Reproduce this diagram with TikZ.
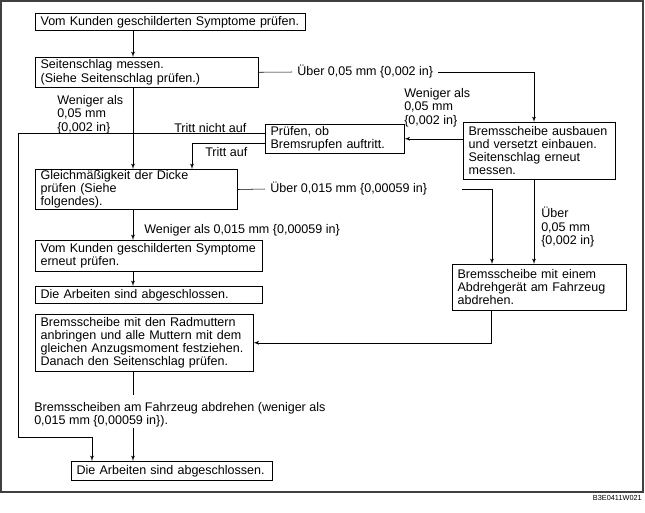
\documentclass[tikz,border=0pt]{standalone}
\usepackage{fontspec}
\setmainfont{Liberation Sans}
\usetikzlibrary{arrows,calc}

\begin{document}
\begin{tikzpicture}[x=0.75pt, y=-0.75pt, font=\fontsize{9.4}{9.8}\selectfont]
\tikzstyle{block} = [rectangle, draw, anchor=north west, align=left,
    inner xsep=4pt, inner ysep=1pt]
\tikzstyle{note} = [align=left, inner sep=0pt,
    font=\fontsize{9.4}{10.2}\selectfont]
\tikzstyle{gapnote} = [anchor=west, inner xsep=3.75pt, inner ysep=0pt]
\tikzstyle{line} = [draw, -latex']

    \useasboundingbox (0,0) rectangle (645,512);
    \draw [line width=1pt, black!75] (1,1) rectangle (643,492);
    \node [anchor=north east, inner sep=0pt, font=\fontsize{5.5}{6}\selectfont]
        (code) at (642,495) {B3E0411W021};

    % Place nodes
    \node [block, text width=194.5pt, minimum height=12.75pt] (check) at (35,13)
        {Vom Kunden geschilderten Symptome prüfen.};
    \node [block, text width=159.25pt, minimum height=22.5pt] (runout) at (35,57)
        {Seitenschlag messen.\\(Siehe Seitenschlag prüfen.)};
    \node [block, text width=96.25pt, minimum height=21.75pt] (judder) at (265,124)
        {Prüfen, ob\\Bremsrupfen auftritt.};
    \node [block, text width=106pt, minimum height=42.75pt] (refit) at (463,122)
        {Bremsscheibe ausbauen\\und versetzt einbauen.\\Seitenschlag erneut\\messen.};
    \node [block, text width=143.5pt, minimum height=27.75pt] (thick) at (35,169)
        {Gleichmäßigkeit der Dicke\\prüfen (Siehe\\folgendes).};
    \node [block, text width=162.5pt, minimum height=23.25pt] (recheck) at (35,240)
        {Vom Kunden geschilderten Symptome\\erneut prüfen.};
    \node [block, text width=162.25pt, minimum height=12.75pt] (done) at (35,286)
        {Die Arbeiten sind abgeschlossen.};
    \node [block, text width=122.5pt, minimum height=34.5pt] (lathe) at (452,264)
        {Bremsscheibe mit einem\\Abdrehgerät am Fahrzeug\\abdrehen.};
    \node [block, text width=155.5pt, minimum height=42.75pt] (torque) at (35,314)
        {Bremsscheibe mit den Radmuttern\\anbringen und alle Muttern mit dem\\gleichen Anzugsmoment festziehen.\\Danach den Seitenschlag prüfen.};
    \node [block, text width=142.75pt, minimum height=14.25pt] (finish) at (71,461)
        {Die Arbeiten sind abgeschlossen.};

    % Place labels
    \node [gapnote] (over1) at (292,72) {Über 0,05 mm \{0,002 in\}};
    \node [note, anchor=north west] (less1) at (57,95) {Weniger als\\0,05 mm\\\{0,002 in\}};
    \node [note, anchor=north west] (less2) at (404,88) {Weniger als\\0,05 mm\\\{0,002 in\}};
    \node [note, anchor=west] (notok) at (174,128) {Tritt nicht auf};
    \node [note, anchor=west] (ok) at (205,152) {Tritt auf};
    \node [gapnote] (over2) at (265,189) {Über 0,015 mm \{0,00059 in\}};
    \node [note, anchor=west] (less3) at (144,230) {Weniger als 0,015 mm \{0,00059 in\}};
    \node [note, anchor=north west] (over3) at (541,207) {Über\\0,05 mm\\\{0,002 in\}};
    \node [note, anchor=north west] (turn) at (34,402)
        {Bremsscheiben am Fahrzeug abdrehen (weniger als\\0,015 mm \{0,00059 in\}).};

    % Corner points
    \coordinate (axis) at (133,0);
    \coordinate (rx) at (534,0);
    \coordinate (nt) at (18,133);
    \coordinate (nb) at (18,437);
    \coordinate (ta) at (192,143);
    \coordinate (o2) at (462,0);
    \coordinate (g1) at (133,395);
    \coordinate (g2) at (133,428);

    % Draw edges
    \path [line] (check.south -| axis) -- (runout.north -| axis);
    \path [line] (runout.south -| axis) -- (thick.north -| axis);
    \path [line] (thick.south -| axis) -- (recheck.north -| axis);
    \path [line] (recheck.south -| axis) -- (done.north -| axis);
    \draw (runout.east) -- (over1.west);
    \path [line] (over1.east) -| (refit.north -| rx);
    \path [line] (refit.west |- judder.east) -- (judder.east);
    \path [line] (judder.west |- nt) -- (nt) -- (nb) -| ($(finish.north west)+(21,0)$);
    \path [line] (judder.west |- ta) -| (thick.north -| ta);
    \draw (thick.east) -- (over2.west);
    \path [line] (o2 |- thick.east) -| ($(lathe.north west)+(40,0)$);
    \path [line] (refit.south -| rx) -- (lathe.north -| rx);
    \path [line] ($(lathe.south west)+(39,0)$) |- (torque.east);
    \draw (torque.south -| axis) -- (g1);
    \path [line] (g2) -- (finish.north -| axis);
\end{tikzpicture}
\end{document}
